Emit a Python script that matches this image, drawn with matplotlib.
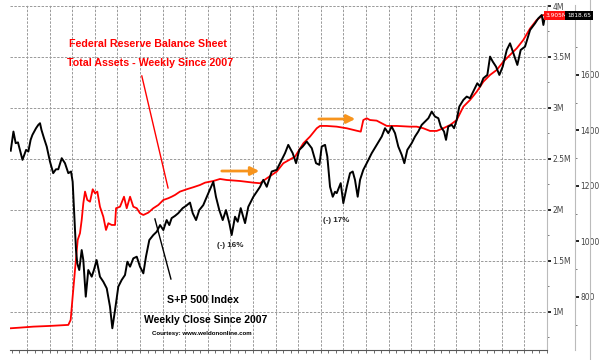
import numpy as np
import matplotlib
matplotlib.use("Agg")
import matplotlib.pyplot as plt
from matplotlib.ticker import MultipleLocator, FixedLocator
from matplotlib.lines import Line2D

# ---------------- datos ----------------
# S&P 500, cierre semanal (fecha en anios decimales)
spx_t = [2008.07, 2008.10, 2008.125, 2008.15, 2008.20, 2008.24, 2008.265, 2008.29, 2008.31, 2008.35,
         2008.375, 2008.394, 2008.41, 2008.438, 2008.468, 2008.504, 2008.54, 2008.57, 2008.596, 2008.634,
         2008.67, 2008.707, 2008.737, 2008.755, 2008.77, 2008.792, 2008.806, 2008.828, 2008.855, 2008.873,
         2008.90, 2008.928, 2008.966, 2008.99, 2009.02, 2009.057, 2009.094, 2009.132, 2009.168, 2009.194,
         2009.224, 2009.26, 2009.297, 2009.334, 2009.36, 2009.39, 2009.426, 2009.464, 2009.50, 2009.537,
         2009.566, 2009.603, 2009.647, 2009.685, 2009.722, 2009.758, 2009.795, 2009.824, 2009.85, 2009.887,
         2009.924, 2009.972, 2010.009, 2010.053, 2010.083, 2010.12, 2010.156, 2010.20, 2010.256, 2010.311,
         2010.34, 2010.377, 2010.415, 2010.451, 2010.488, 2010.514, 2010.551, 2010.581, 2010.614, 2010.662,
         2010.698, 2010.754, 2010.828, 2010.864, 2010.902, 2010.957, 2011.012, 2011.068, 2011.104, 2011.14,
         2011.189, 2011.226, 2011.262, 2011.30, 2011.344, 2011.40, 2011.447, 2011.484, 2011.51, 2011.547,
         2011.572, 2011.602, 2011.632, 2011.657, 2011.676, 2011.72, 2011.749, 2011.787, 2011.823, 2011.853,
         2011.878, 2011.908, 2011.934, 2011.97, 2012.008, 2012.063, 2012.118, 2012.174, 2012.21, 2012.247,
         2012.284, 2012.321, 2012.357, 2012.395, 2012.424, 2012.457, 2012.505, 2012.542, 2012.578, 2012.616,
         2012.653, 2012.69, 2012.727, 2012.763, 2012.80, 2012.827, 2012.863, 2012.885, 2012.91, 2012.948,
         2012.974, 2013.003, 2013.032, 2013.077, 2013.114, 2013.15, 2013.195, 2013.231, 2013.261, 2013.298,
         2013.342, 2013.372, 2013.402, 2013.438, 2013.475, 2013.512, 2013.557, 2013.593, 2013.63, 2013.674,
         2013.711, 2013.759, 2013.815, 2013.87, 2013.906, 2013.944, 2013.962, 2013.984]
spx = [1327, 1396, 1354, 1357, 1294, 1330, 1324, 1366, 1384, 1408,
       1420, 1426, 1402, 1372, 1342, 1288, 1246, 1260, 1260, 1300,
       1282, 1246, 1252, 1215, 1113, 969, 921, 897, 969, 933,
       801, 897, 873, 897, 933, 873, 855, 831, 765, 687,
       753, 837, 861, 879, 927, 909, 939, 945, 909, 885,
       945, 1005, 1023, 1035, 1059, 1041, 1077, 1059, 1084, 1092,
       1102, 1120, 1128, 1140, 1102, 1077, 1113, 1131, 1174, 1215,
       1161, 1113, 1077, 1113, 1066, 1023, 1089, 1071, 1120, 1066,
       1125, 1161, 1197, 1222, 1197, 1252, 1258, 1294, 1318, 1348,
       1318, 1282, 1330, 1342, 1360, 1336, 1282, 1276, 1342, 1348,
       1306, 1197, 1161, 1179, 1174, 1210, 1138, 1197, 1246, 1252,
       1222, 1161, 1222, 1258, 1282, 1318, 1348, 1378, 1408, 1390,
       1414, 1390, 1342, 1312, 1282, 1330, 1354, 1378, 1396, 1420,
       1432, 1444, 1468, 1450, 1444, 1414, 1396, 1366, 1414, 1420,
       1408, 1438, 1486, 1510, 1522, 1516, 1546, 1570, 1558, 1588,
       1600, 1666, 1648, 1630, 1600, 1630, 1690, 1714, 1678, 1636,
       1690, 1702, 1762, 1786, 1804, 1816, 1780, 1818.65]

# Balance de la Reserva Federal, activos totales (billones USD)
fed_t = [2008.07, 2008.17, 2008.32, 2008.504, 2008.707, 2008.733, 2008.755, 2008.781, 2008.811, 2008.836,
         2008.855, 2008.873, 2008.892, 2008.917, 2008.947, 2008.977, 2009.002, 2009.028, 2009.057, 2009.094,
         2009.124, 2009.15, 2009.187, 2009.224, 2009.235, 2009.279, 2009.323, 2009.353, 2009.39, 2009.426,
         2009.464, 2009.50, 2009.537, 2009.592, 2009.647, 2009.703, 2009.758, 2009.813, 2009.85, 2009.887,
         2009.942, 2010.017, 2010.09, 2010.164, 2010.22, 2010.311, 2010.385, 2010.459, 2010.606, 2010.754,
         2010.828, 2010.902, 2011.012, 2011.085, 2011.215, 2011.307, 2011.38, 2011.455, 2011.491, 2011.565,
         2011.676, 2011.787, 2011.897, 2011.942, 2011.97, 2012.008, 2012.044, 2012.118, 2012.174, 2012.23,
         2012.34, 2012.487, 2012.56, 2012.634, 2012.708, 2012.782, 2012.855, 2012.93, 2013.003, 2013.077,
         2013.15, 2013.225, 2013.298, 2013.372, 2013.446, 2013.519, 2013.593, 2013.667, 2013.74, 2013.815,
         2013.888, 2013.962, 2013.984]
fed = [0.840, 0.846, 0.856, 0.863, 0.873, 0.922, 1.150, 1.412, 1.706, 1.772,
       1.902, 2.066, 2.180, 2.098, 2.081, 2.203, 2.164, 2.180, 2.032, 1.934,
       1.804, 1.870, 1.853, 1.853, 2.017, 2.032, 2.130, 2.017, 2.130, 2.032,
       2.017, 1.968, 1.951, 1.974, 2.017, 2.049, 2.098, 2.115, 2.130, 2.147,
       2.180, 2.203, 2.223, 2.245, 2.268, 2.284, 2.304, 2.294, 2.284, 2.268,
       2.262, 2.310, 2.376, 2.458, 2.523, 2.654, 2.719, 2.801, 2.824, 2.824,
       2.817, 2.801, 2.777, 2.768, 2.882, 2.899, 2.882, 2.876, 2.850, 2.824,
       2.824, 2.817, 2.817, 2.801, 2.775, 2.775, 2.801, 2.833, 2.882, 3.013,
       3.078, 3.160, 3.258, 3.324, 3.373, 3.454, 3.520, 3.585, 3.667, 3.780,
       3.863, 3.912, 3.905]

fed_ticks = [1.0, 1.5, 2.0, 2.5, 3.0, 3.5, 4.0]
fed_labels = ["1M", "1.5M", "2M", "2.5M", "3M", "3.5M", "4M"]
spx_ticks = [800, 1000, 1200, 1400, 1600]

# ---------------- figura ----------------
fig = plt.figure(figsize=(6, 3.6), dpi=100)
ax = fig.add_axes([0.01667, 0.0264, 0.895, 0.9597])
ax2 = ax.twinx()

ax.set_xlim(2008.062, 2014.002)
ax.set_ylim(0.622, 4.0098)
ax2.set_ylim(607, 1852)

# rejilla punteada
ax.xaxis.set_major_locator(FixedLocator(np.arange(2008.25, 2013.8, 0.25)))
ax.xaxis.set_minor_locator(FixedLocator(np.arange(2008.0, 2014.01, 1 / 12)))
ax.set_xticklabels([])
ax.tick_params(axis="x", which="both", length=2, width=0.6, color="#555555", direction="out")
ax.grid(True, which="major", color="#999999", linestyle=(0, (2.5, 1.5)), linewidth=0.7)

# eje de la Fed a la derecha
ax.yaxis.tick_right()
ax.set_yticks(fed_ticks)
ax.set_yticklabels(fed_labels)
ax.yaxis.set_minor_locator(MultipleLocator(0.25))
ax.tick_params(axis="y", which="major", length=3, width=1.4, color="#222222", pad=1,
               labelsize=5.5, labelcolor="#444444")
ax.tick_params(axis="y", which="minor", length=1.5, width=0.6, color="#666666")

# eje del S&P mas afuera
ax2.spines["right"].set_position(("outward", 20))
ax2.set_yticks(spx_ticks)
ax2.yaxis.set_minor_locator(FixedLocator(np.arange(700, 1800, 200)))
ax2.tick_params(axis="y", which="major", length=3, width=1.4, color="#222222", pad=1,
                labelsize=5.5, labelcolor="#444444")
ax2.tick_params(axis="y", which="minor", length=1.5, width=0.6, color="#666666")

for a in (ax, ax2):
    a.spines["top"].set_visible(False)
    a.spines["left"].set_visible(False)
ax.spines["bottom"].set_color("#555555")
ax.spines["right"].set_color("#bbbbbb")
ax2.spines["bottom"].set_visible(False)
ax2.spines["right"].set_color("#bbbbbb")
fig.add_artist(Line2D([590 / 600, 590 / 600], [0, 1], color="#bbbbbb", lw=0.8))

# series
ax.plot(fed_t, fed, color="#ff0000", lw=1.3, zorder=4)
ax2.plot(spx_t, spx, color="black", lw=1.4, zorder=3)

# etiquetas del ultimo valor
fig.text(556.5 / 600, 1 - 15.5 / 360, "3.905M", color="white", fontsize=4.2, ha="center", va="center",
         bbox=dict(boxstyle="square,pad=0.3", fc="#ff1010", ec="none"))
fig.text(579 / 600, 1 - 15.5 / 360, "1818.65", color="white", fontsize=4.2, ha="center", va="center",
         bbox=dict(boxstyle="square,pad=0.3", fc="black", ec="none"))

# anotaciones
fam = ["Liberation Sans Narrow", "Liberation Sans", "DejaVu Sans"]
ax.text(2009.588, 3.628, "Federal Reserve Balance Sheet", color="#ff0000", fontsize=7.7,
        fontweight="bold", family=fam, ha="center", va="center")
ax.text(2009.61, 3.441, "Total Assets - Weekly Since 2007", color="#ff0000", fontsize=7.7,
        fontweight="bold", family=fam, ha="center", va="center")
ax.plot([2009.52, 2009.81], [3.314, 2.216], color="#ff0000", lw=1.0)

ax.text(2010.197, 1.118, "S+P 500 Index", color="black", fontsize=7.7, fontweight="bold",
        family=fam, ha="center", va="center")
ax.text(2010.23, 0.922, "Weekly Close Since 2007", color="black", fontsize=7.5, fontweight="bold",
        family=fam, ha="center", va="center")
ax.text(2010.186, 0.784, "Courtesy: www.weldononline.com", color="black", fontsize=4.4,
        fontweight="bold", family=fam, ha="center", va="center")
ax.plot([2009.665, 2009.842], [1.912, 1.323], color="black", lw=1.0)

ax.text(2010.495, 1.647, "(-) 16%", color="#222222", fontsize=5.8, fontweight="bold",
        family=fam, ha="center", va="center")
ax.text(2011.668, 1.892, "(-) 17%", color="#222222", fontsize=5.8, fontweight="bold",
        family=fam, ha="center", va="center")

arrow = dict(arrowstyle="-|>,head_length=0.5,head_width=0.25", color="#f7941d", lw=2)
ax.annotate("", xy=(2010.85, 2.382), xytext=(2010.374, 2.382), arrowprops=arrow, zorder=5)
ax.annotate("", xy=(2011.912, 2.892), xytext=(2011.447, 2.892), arrowprops=arrow, zorder=5)

fig.savefig("out.png", dpi=100, facecolor="white")
